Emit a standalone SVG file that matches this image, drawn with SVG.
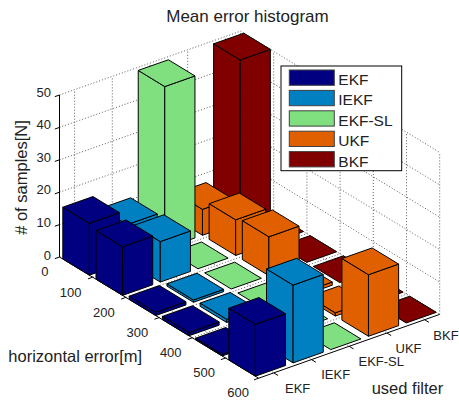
<svg xmlns="http://www.w3.org/2000/svg" width="459" height="400" viewBox="0 0 459 400">
<style>
.bg{fill:#fff}
.grid{stroke:#333;stroke-width:0.8;stroke-dasharray:1 2;fill:none}
.axis{stroke:#000;stroke-width:1;fill:none}
.f{stroke:#000;stroke-width:1;vector-effect:non-scaling-stroke;stroke-linejoin:round}
.ekf{fill:#000080}
.iekf{fill:#0080c0}
.sl{fill:#80e080}
.ukf{fill:#e06000}
.bkf{fill:#800000}
text{font-family:"Liberation Sans",Arial,sans-serif;fill:#222}
.tk{font-size:13px}
.lb{font-size:16.5px}
.tt{font-size:17px}
.lg{font-size:15.5px}
.sw{stroke:#404040;stroke-width:1}
</style>
<rect class="bg" x="0" y="0" width="459" height="400"/>
<text class="tt" x="247.5" y="21.7" text-anchor="middle">Mean error histogram</text>
<g id="grid">
<line class="grid" x1="59.5" y1="224.6" x2="240.5" y2="160.8"/>
<line class="grid" x1="59.5" y1="192.2" x2="240.5" y2="128.4"/>
<line class="grid" x1="59.5" y1="159.8" x2="240.5" y2="96"/>
<line class="grid" x1="59.5" y1="127.4" x2="240.5" y2="63.6"/>
<line class="grid" x1="59.5" y1="95" x2="240.5" y2="31.2"/>
<line class="grid" x1="74.6" y1="251.7" x2="74.6" y2="89.7"/>
<line class="grid" x1="112.3" y1="238.4" x2="112.3" y2="76.4"/>
<line class="grid" x1="150" y1="225.1" x2="150" y2="63.1"/>
<line class="grid" x1="187.7" y1="211.8" x2="187.7" y2="49.8"/>
<line class="grid" x1="225.4" y1="198.5" x2="225.4" y2="36.5"/>
<line class="grid" x1="240.5" y1="193.2" x2="439.7" y2="314.4"/>
<line class="grid" x1="240.5" y1="160.8" x2="439.7" y2="282"/>
<line class="grid" x1="240.5" y1="128.4" x2="439.7" y2="249.6"/>
<line class="grid" x1="240.5" y1="96" x2="439.7" y2="217.2"/>
<line class="grid" x1="240.5" y1="63.6" x2="439.7" y2="184.8"/>
<line class="grid" x1="240.5" y1="31.2" x2="439.7" y2="152.4"/>
<line class="grid" x1="240.5" y1="193.2" x2="240.5" y2="31.2"/>
<line class="grid" x1="273.7" y1="213.4" x2="273.7" y2="51.4"/>
<line class="grid" x1="306.9" y1="233.6" x2="306.9" y2="71.6"/>
<line class="grid" x1="340.1" y1="253.8" x2="340.1" y2="91.8"/>
<line class="grid" x1="373.3" y1="274" x2="373.3" y2="112"/>
<line class="grid" x1="406.5" y1="294.2" x2="406.5" y2="132.2"/>
<line class="grid" x1="439.7" y1="314.4" x2="439.7" y2="152.4"/>
<line class="grid" x1="59.5" y1="257" x2="240.5" y2="193.2"/>
<line class="grid" x1="92.7" y1="277.2" x2="273.7" y2="213.4"/>
<line class="grid" x1="125.9" y1="297.4" x2="306.9" y2="233.6"/>
<line class="grid" x1="159.1" y1="317.6" x2="340.1" y2="253.8"/>
<line class="grid" x1="192.3" y1="337.8" x2="373.3" y2="274"/>
<line class="grid" x1="225.5" y1="358" x2="406.5" y2="294.2"/>
<line class="grid" x1="74.6" y1="251.7" x2="273.8" y2="372.9"/>
<line class="grid" x1="112.3" y1="238.4" x2="311.5" y2="359.6"/>
<line class="grid" x1="150" y1="225.1" x2="349.2" y2="346.3"/>
<line class="grid" x1="187.7" y1="211.8" x2="386.9" y2="333"/>
<line class="grid" x1="225.4" y1="198.5" x2="424.6" y2="319.7"/>
</g>
<g id="axes">
<path class="axis" d="M59.5,95V257L258.7,378.2L439.7,314.4"/>
<path class="axis" d="M59.5,95l-4.7,1.65M59.5,127.4l-4.7,1.65M59.5,159.8l-4.7,1.65M59.5,192.2l-4.7,1.65M59.5,224.6l-4.7,1.65M59.5,257l-4.7,1.65"/>
<path class="axis" d="M92.7,277.2l-4.7,1.65M125.9,297.4l-4.7,1.65M159.1,317.6l-4.7,1.65M192.3,337.8l-4.7,1.65M225.5,358l-4.7,1.65M258.7,378.2l-4.7,1.65"/>
<path class="axis" d="M273.8,372.9l4.3,2.6M311.5,359.6l4.3,2.6M349.2,346.3l4.3,2.6M386.9,333l4.3,2.6M424.6,319.7l4.3,2.6"/>
</g>
<g id="bars">
<g id="bkf-0" class="bkf">
<polygon class="f" transform="matrix(33.2,20.2,0,-3.24,210.3,203.8)" points="0.1,0 0.9,0 0.9,50 0.1,50"/>
<polygon class="f" transform="matrix(37.7,-13.3,0,-3.24,66.76,283.16)" points="4.6,0 5.4,0 5.4,50 4.6,50"/>
<polygon class="f" transform="matrix(37.7,-13.3,33.2,20.2,36.88,102.98)" points="4.6,0.1 5.4,0.1 5.4,0.9 4.6,0.9"/>
</g>
<g id="ukf-0" class="ukf">
<polygon class="f" transform="matrix(33.2,20.2,0,-3.24,172.6,217.1)" points="0.1,0 0.9,0 0.9,8 0.1,8"/>
<polygon class="f" transform="matrix(37.7,-13.3,0,-3.24,66.76,283.16)" points="3.6,0 4.4,0 4.4,8 3.6,8"/>
<polygon class="f" transform="matrix(37.7,-13.3,33.2,20.2,36.88,239.06)" points="3.6,0.1 4.4,0.1 4.4,0.9 3.6,0.9"/>
</g>
<g id="sl-0" class="sl">
<polygon class="f" transform="matrix(33.2,20.2,0,-3.24,134.9,230.4)" points="0.1,0 0.9,0 0.9,50 0.1,50"/>
<polygon class="f" transform="matrix(37.7,-13.3,0,-3.24,66.76,283.16)" points="2.6,0 3.4,0 3.4,50 2.6,50"/>
<polygon class="f" transform="matrix(37.7,-13.3,33.2,20.2,36.88,102.98)" points="2.6,0.1 3.4,0.1 3.4,0.9 2.6,0.9"/>
</g>
<g id="iekf-0" class="iekf">
<polygon class="f" transform="matrix(33.2,20.2,0,-3.24,97.2,243.7)" points="0.1,0 0.9,0 0.9,11.5 0.1,11.5"/>
<polygon class="f" transform="matrix(37.7,-13.3,0,-3.24,66.76,283.16)" points="1.6,0 2.4,0 2.4,11.5 1.6,11.5"/>
<polygon class="f" transform="matrix(37.7,-13.3,33.2,20.2,36.88,227.72)" points="1.6,0.1 2.4,0.1 2.4,0.9 1.6,0.9"/>
</g>
<g id="ekf-0" class="ekf">
<polygon class="f" transform="matrix(33.2,20.2,0,-3.24,59.5,257)" points="0.1,0 0.9,0 0.9,16 0.1,16"/>
<polygon class="f" transform="matrix(37.7,-13.3,0,-3.24,66.76,283.16)" points="0.6,0 1.4,0 1.4,16 0.6,16"/>
<polygon class="f" transform="matrix(37.7,-13.3,33.2,20.2,36.88,213.14)" points="0.6,0.1 1.4,0.1 1.4,0.9 0.6,0.9"/>
</g>
<g id="bkf-1" class="bkf"><polygon class="f" transform="matrix(37.7,-13.3,33.2,20.2,36.88,264.98)" points="4.6,1.1 5.4,1.1 5.4,1.9 4.6,1.9"/></g>
<g id="ukf-1" class="ukf">
<polygon class="f" transform="matrix(33.2,20.2,0,-3.24,172.6,217.1)" points="1.1,0 1.9,0 1.9,11 1.1,11"/>
<polygon class="f" transform="matrix(37.7,-13.3,0,-3.24,99.96,303.36)" points="3.6,0 4.4,0 4.4,11 3.6,11"/>
<polygon class="f" transform="matrix(37.7,-13.3,33.2,20.2,36.88,229.34)" points="3.6,1.1 4.4,1.1 4.4,1.9 3.6,1.9"/>
</g>
<g id="sl-1" class="sl"><polygon class="f" transform="matrix(37.7,-13.3,33.2,20.2,36.88,264.98)" points="2.6,1.1 3.4,1.1 3.4,1.9 2.6,1.9"/></g>
<g id="iekf-1" class="iekf">
<polygon class="f" transform="matrix(33.2,20.2,0,-3.24,97.2,243.7)" points="1.1,0 1.9,0 1.9,12.5 1.1,12.5"/>
<polygon class="f" transform="matrix(37.7,-13.3,0,-3.24,99.96,303.36)" points="1.6,0 2.4,0 2.4,12.5 1.6,12.5"/>
<polygon class="f" transform="matrix(37.7,-13.3,33.2,20.2,36.88,224.48)" points="1.6,1.1 2.4,1.1 2.4,1.9 1.6,1.9"/>
</g>
<g id="ekf-1" class="ekf">
<polygon class="f" transform="matrix(33.2,20.2,0,-3.24,59.5,257)" points="1.1,0 1.9,0 1.9,15 1.1,15"/>
<polygon class="f" transform="matrix(37.7,-13.3,0,-3.24,99.96,303.36)" points="0.6,0 1.4,0 1.4,15 0.6,15"/>
<polygon class="f" transform="matrix(37.7,-13.3,33.2,20.2,36.88,216.38)" points="0.6,1.1 1.4,1.1 1.4,1.9 0.6,1.9"/>
</g>
<g id="bkf-2" class="bkf"><polygon class="f" transform="matrix(37.7,-13.3,33.2,20.2,36.88,264.98)" points="4.6,2.1 5.4,2.1 5.4,2.9 4.6,2.9"/></g>
<g id="ukf-2" class="ukf">
<polygon class="f" transform="matrix(33.2,20.2,0,-3.24,172.6,217.1)" points="2.1,0 2.9,0 2.9,12 2.1,12"/>
<polygon class="f" transform="matrix(37.7,-13.3,0,-3.24,133.16,323.56)" points="3.6,0 4.4,0 4.4,12 3.6,12"/>
<polygon class="f" transform="matrix(37.7,-13.3,33.2,20.2,36.88,226.1)" points="3.6,2.1 4.4,2.1 4.4,2.9 3.6,2.9"/>
</g>
<g id="sl-2" class="sl"><polygon class="f" transform="matrix(37.7,-13.3,33.2,20.2,36.88,264.98)" points="2.6,2.1 3.4,2.1 3.4,2.9 2.6,2.9"/></g>
<g id="iekf-2" class="iekf">
<polygon class="f" transform="matrix(33.2,20.2,0,-3.24,97.2,243.7)" points="2.1,0 2.9,0 2.9,0.7 2.1,0.7"/>
<polygon class="f" transform="matrix(37.7,-13.3,0,-3.24,133.16,323.56)" points="1.6,0 2.4,0 2.4,0.7 1.6,0.7"/>
<polygon class="f" transform="matrix(37.7,-13.3,33.2,20.2,36.88,262.71)" points="1.6,2.1 2.4,2.1 2.4,2.9 1.6,2.9"/>
</g>
<g id="ekf-2" class="ekf">
<polygon class="f" transform="matrix(33.2,20.2,0,-3.24,59.5,257)" points="2.1,0 2.9,0 2.9,1 2.1,1"/>
<polygon class="f" transform="matrix(37.7,-13.3,0,-3.24,133.16,323.56)" points="0.6,0 1.4,0 1.4,1 0.6,1"/>
<polygon class="f" transform="matrix(37.7,-13.3,33.2,20.2,36.88,261.74)" points="0.6,2.1 1.4,2.1 1.4,2.9 0.6,2.9"/>
</g>
<g id="bkf-3" class="bkf"><polygon class="f" transform="matrix(37.7,-13.3,33.2,20.2,36.88,264.98)" points="4.6,3.1 5.4,3.1 5.4,3.9 4.6,3.9"/></g>
<g id="ukf-3" class="ukf">
<polygon class="f" transform="matrix(33.2,20.2,0,-3.24,172.6,217.1)" points="3.1,0 3.9,0 3.9,1 3.1,1"/>
<polygon class="f" transform="matrix(37.7,-13.3,0,-3.24,166.36,343.76)" points="3.6,0 4.4,0 4.4,1 3.6,1"/>
<polygon class="f" transform="matrix(37.7,-13.3,33.2,20.2,36.88,261.74)" points="3.6,3.1 4.4,3.1 4.4,3.9 3.6,3.9"/>
</g>
<g id="sl-3" class="sl"><polygon class="f" transform="matrix(37.7,-13.3,33.2,20.2,36.88,264.98)" points="2.6,3.1 3.4,3.1 3.4,3.9 2.6,3.9"/></g>
<g id="iekf-3" class="iekf">
<polygon class="f" transform="matrix(33.2,20.2,0,-3.24,97.2,243.7)" points="3.1,0 3.9,0 3.9,1 3.1,1"/>
<polygon class="f" transform="matrix(37.7,-13.3,0,-3.24,166.36,343.76)" points="1.6,0 2.4,0 2.4,1 1.6,1"/>
<polygon class="f" transform="matrix(37.7,-13.3,33.2,20.2,36.88,261.74)" points="1.6,3.1 2.4,3.1 2.4,3.9 1.6,3.9"/>
</g>
<g id="ekf-3" class="ekf">
<polygon class="f" transform="matrix(33.2,20.2,0,-3.24,59.5,257)" points="3.1,0 3.9,0 3.9,1 3.1,1"/>
<polygon class="f" transform="matrix(37.7,-13.3,0,-3.24,166.36,343.76)" points="0.6,0 1.4,0 1.4,1 0.6,1"/>
<polygon class="f" transform="matrix(37.7,-13.3,33.2,20.2,36.88,261.74)" points="0.6,3.1 1.4,3.1 1.4,3.9 0.6,3.9"/>
</g>
<g id="bkf-4" class="bkf"><polygon class="f" transform="matrix(37.7,-13.3,33.2,20.2,36.88,264.98)" points="4.6,4.1 5.4,4.1 5.4,4.9 4.6,4.9"/></g>
<g id="ukf-4" class="ukf">
<polygon class="f" transform="matrix(33.2,20.2,0,-3.24,172.6,217.1)" points="4.1,0 4.9,0 4.9,1 4.1,1"/>
<polygon class="f" transform="matrix(37.7,-13.3,0,-3.24,199.56,363.96)" points="3.6,0 4.4,0 4.4,1 3.6,1"/>
<polygon class="f" transform="matrix(37.7,-13.3,33.2,20.2,36.88,261.74)" points="3.6,4.1 4.4,4.1 4.4,4.9 3.6,4.9"/>
</g>
<g id="sl-4" class="sl"><polygon class="f" transform="matrix(37.7,-13.3,33.2,20.2,36.88,264.98)" points="2.6,4.1 3.4,4.1 3.4,4.9 2.6,4.9"/></g>
<g id="iekf-4" class="iekf"><polygon class="f" transform="matrix(37.7,-13.3,33.2,20.2,36.88,264.98)" points="1.6,4.1 2.4,4.1 2.4,4.9 1.6,4.9"/></g>
<g id="ekf-4" class="ekf">
<polygon class="f" transform="matrix(33.2,20.2,0,-3.24,59.5,257)" points="4.1,0 4.9,0 4.9,0.5 4.1,0.5"/>
<polygon class="f" transform="matrix(37.7,-13.3,0,-3.24,199.56,363.96)" points="0.6,0 1.4,0 1.4,0.5 0.6,0.5"/>
<polygon class="f" transform="matrix(37.7,-13.3,33.2,20.2,36.88,263.36)" points="0.6,4.1 1.4,4.1 1.4,4.9 0.6,4.9"/>
</g>
<g id="bkf-5" class="bkf"><polygon class="f" transform="matrix(37.7,-13.3,33.2,20.2,36.88,264.98)" points="4.6,5.1 5.4,5.1 5.4,5.9 4.6,5.9"/></g>
<g id="ukf-5" class="ukf">
<polygon class="f" transform="matrix(33.2,20.2,0,-3.24,172.6,217.1)" points="5.1,0 5.9,0 5.9,19 5.1,19"/>
<polygon class="f" transform="matrix(37.7,-13.3,0,-3.24,232.76,384.16)" points="3.6,0 4.4,0 4.4,19 3.6,19"/>
<polygon class="f" transform="matrix(37.7,-13.3,33.2,20.2,36.88,203.42)" points="3.6,5.1 4.4,5.1 4.4,5.9 3.6,5.9"/>
</g>
<g id="sl-5" class="sl"><polygon class="f" transform="matrix(37.7,-13.3,33.2,20.2,36.88,264.98)" points="2.6,5.1 3.4,5.1 3.4,5.9 2.6,5.9"/></g>
<g id="iekf-5" class="iekf">
<polygon class="f" transform="matrix(33.2,20.2,0,-3.24,97.2,243.7)" points="5.1,0 5.9,0 5.9,24 5.1,24"/>
<polygon class="f" transform="matrix(37.7,-13.3,0,-3.24,232.76,384.16)" points="1.6,0 2.4,0 2.4,24 1.6,24"/>
<polygon class="f" transform="matrix(37.7,-13.3,33.2,20.2,36.88,187.22)" points="1.6,5.1 2.4,5.1 2.4,5.9 1.6,5.9"/>
</g>
<g id="ekf-5" class="ekf">
<polygon class="f" transform="matrix(33.2,20.2,0,-3.24,59.5,257)" points="5.1,0 5.9,0 5.9,16 5.1,16"/>
<polygon class="f" transform="matrix(37.7,-13.3,0,-3.24,232.76,384.16)" points="0.6,0 1.4,0 1.4,16 0.6,16"/>
<polygon class="f" transform="matrix(37.7,-13.3,33.2,20.2,36.88,213.14)" points="0.6,5.1 1.4,5.1 1.4,5.9 0.6,5.9"/>
</g>
</g>
<g id="ticklabels">
<text class="tk" x="51" y="97" text-anchor="end">50</text>
<text class="tk" x="51" y="129.4" text-anchor="end">40</text>
<text class="tk" x="51" y="161.8" text-anchor="end">30</text>
<text class="tk" x="51" y="194.2" text-anchor="end">20</text>
<text class="tk" x="51" y="226.6" text-anchor="end">10</text>
<text class="tk" x="51" y="259.5" text-anchor="end">0</text>
<text class="tk" x="48.5" y="276" text-anchor="end">0</text>
<text class="tk" x="81.5" y="296.5" text-anchor="end">100</text>
<text class="tk" x="114.8" y="316.7" text-anchor="end">200</text>
<text class="tk" x="148.2" y="336.9" text-anchor="end">300</text>
<text class="tk" x="181.6" y="357" text-anchor="end">400</text>
<text class="tk" x="215" y="377" text-anchor="end">500</text>
<text class="tk" x="249" y="396.5" text-anchor="end">600</text>
<text class="tk" x="285" y="392.7">EKF</text>
<text class="tk" x="321.2" y="379.4">IEKF</text>
<text class="tk" x="358.5" y="366.3">EKF-SL</text>
<text class="tk" x="395.5" y="353">UKF</text>
<text class="tk" x="433.3" y="340">BKF</text>
</g>
<g id="axislabels">
<text class="lb" x="8.3" y="362">horizontal error[m]</text>
<text class="lb" x="371.7" y="393.5">used filter</text>
<text class="lb" transform="translate(26.5,177.5) rotate(-90)" text-anchor="middle"># of samples[N]</text>
</g>
<g id="legend">
<rect x="281" y="66" width="120.7" height="104.7" fill="#fff" stroke="#000" stroke-width="1"/>
<rect class="sw ekf" x="289.3" y="70" width="45" height="15.3"/>
<rect class="sw iekf" x="289.3" y="90.4" width="45" height="15.3"/>
<rect class="sw sl" x="289.3" y="110.8" width="45" height="15.3"/>
<rect class="sw ukf" x="289.3" y="131.2" width="45" height="15.3"/>
<rect class="sw bkf" x="289.3" y="151.6" width="45" height="15.3"/>
<text class="lg" x="338.3" y="85">EKF</text>
<text class="lg" x="338.3" y="105.4">IEKF</text>
<text class="lg" x="338.3" y="125.8">EKF-SL</text>
<text class="lg" x="338.3" y="146.2">UKF</text>
<text class="lg" x="338.3" y="166.6">BKF</text>
</g>
</svg>
